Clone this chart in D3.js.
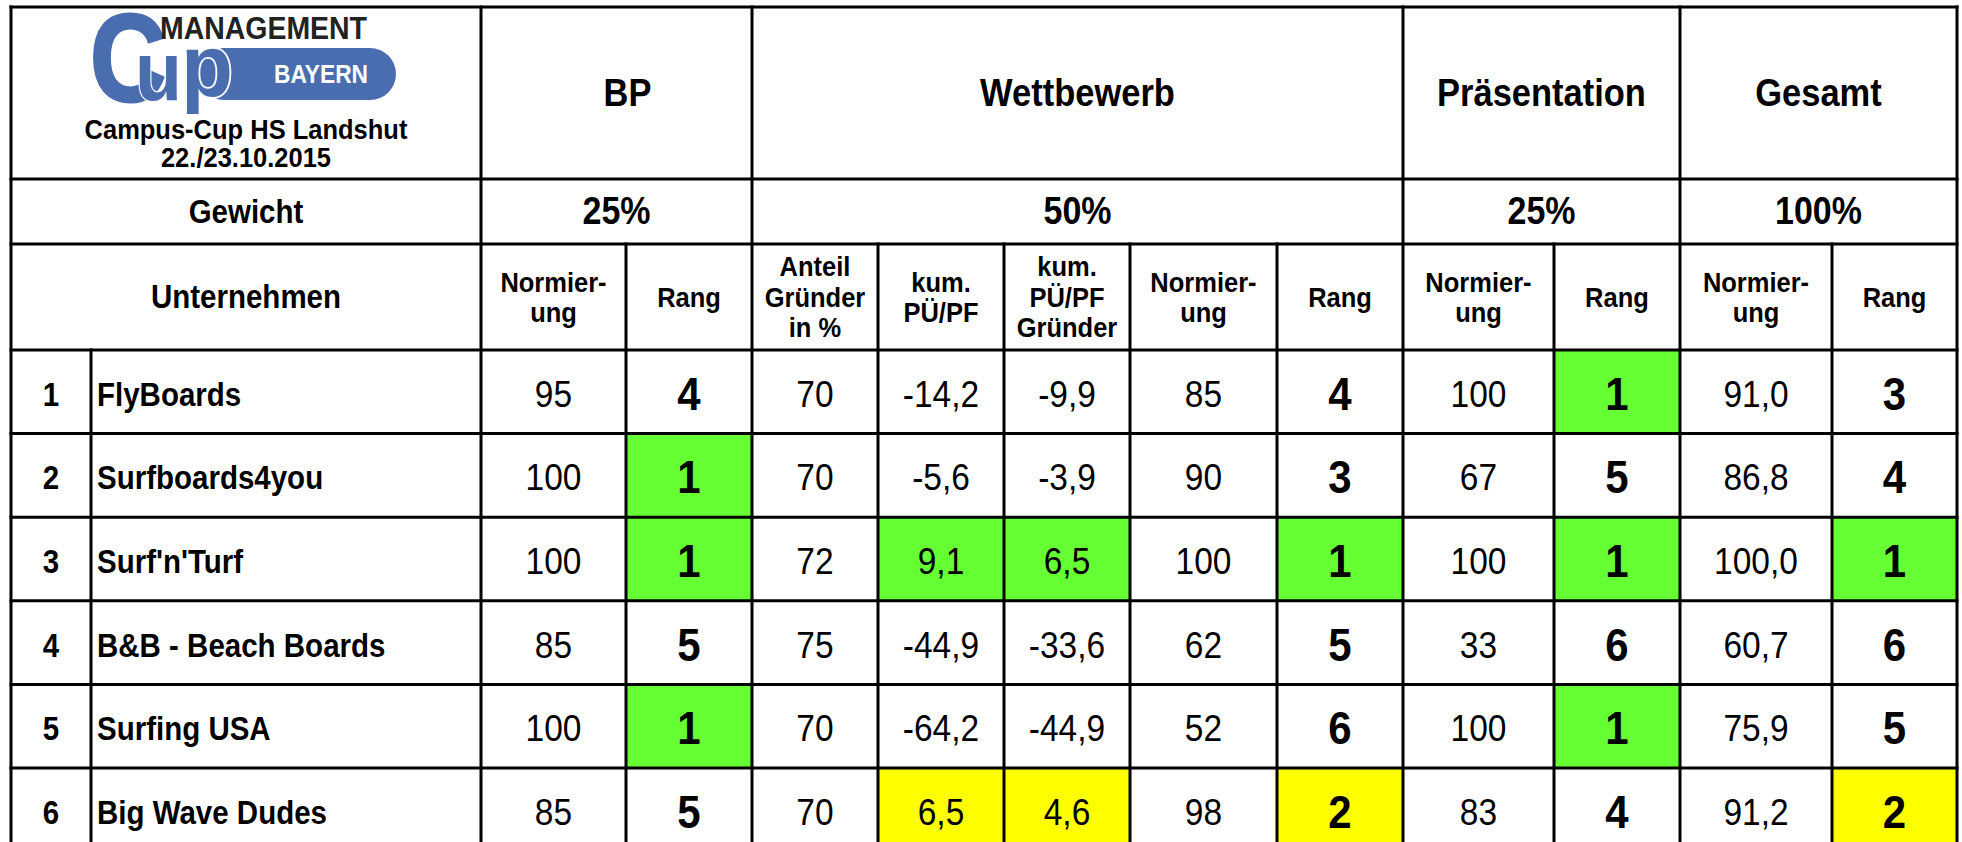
<!DOCTYPE html>
<html><head><meta charset="utf-8">
<script src="https://cdn.jsdelivr.net/npm/d3@7"></script>
<style>
body{margin:0;background:#fff;}
svg{display:block;font-family:"Liberation Sans",Arial,Helvetica,sans-serif;}
</style>
</head><body>
<script>
// ---------- data ----------
const ids = [1, 2, 3, 4, 5, 6];
const companies = ["FlyBoards", "Surfboards4you", "Surf'n'Turf", "B&B - Beach Boards", "Surfing USA", "Big Wave Dudes"];
const bpNorm = [95, 100, 100, 85, 100, 85];
const bpRang = [4, 1, 1, 5, 1, 5];
const anteilGruender = [70, 70, 72, 75, 70, 70];
const kumPUPF = [-14.2, -5.6, 9.1, -44.9, -64.2, 6.5];
const kumPUPFGruender = [-9.9, -3.9, 6.5, -33.6, -44.9, 4.6];
const wNorm = [85, 90, 100, 62, 52, 98];
const wRang = [4, 3, 1, 5, 6, 2];
const pNorm = [100, 67, 100, 33, 100, 83];
const pRang = [1, 5, 1, 6, 1, 4];
const gNorm = [91.0, 86.8, 100.0, 60.7, 75.9, 91.2];
const gRang = [3, 4, 1, 6, 5, 2];
const groupNames = ["BP", "Wettbewerb", "Präsentation", "Gesamt"];
const groupWeights = ["25%", "50%", "25%", "100%"];
const subHeaders = [["Normier-","ung"],["Rang"],["Anteil","Gründer","in %"],["kum.","PÜ/PF"],["kum.","PÜ/PF","Gründer"],["Normier-","ung"],["Rang"],["Normier-","ung"],["Rang"],["Normier-","ung"],["Rang"]];
const titleLines = ["Campus-Cup HS Landshut", "22./23.10.2015"];

// ---------- layout ----------
const W = 1962, H = 842;
const colEdges = [11, 91, 481, 626, 752, 878, 1004, 1130, 1277, 1403, 1554, 1680, 1832, 1957];
const headEdges = [7, 179, 244, 350];
const x = d3.scaleLinear().domain(d3.range(colEdges.length)).range(colEdges);
const y = d3.scaleLinear().domain([0, 6]).range([350, 851.6]);
const hy = d3.scaleLinear().domain([0, 1, 2, 3]).range(headEdges);
const groupSpans = [[2, 4], [4, 9], [9, 11], [11, 13]];

const S = 1.12; // vertical glyph stretch seen in the reference
const vy = v => v / S;

const GREEN = "#66FF33", YELLOW = "#FFFF00", BLUE = "#4A6DB0";
const loc = d3.formatLocale({decimal: ",", thousands: ".", grouping: [3], currency: ["", "€"], minus: "-"});
const f1 = loc.format(".1f"), f0 = loc.format("d");

function rankDesc(arr) { const s = arr.slice().sort((a, b) => b - a); return arr.map(v => s.indexOf(v) + 1); }
const colorByRank = r => r === 1 ? GREEN : (r === 2 ? YELLOW : null);

const columns = [
  {vals: bpNorm, fmt: f0, kind: "val"},
  {vals: bpRang, fmt: f0, kind: "rank", hl: bpRang},
  {vals: anteilGruender, fmt: f0, kind: "val"},
  {vals: kumPUPF, fmt: f1, kind: "val", hl: rankDesc(kumPUPF)},
  {vals: kumPUPFGruender, fmt: f1, kind: "val", hl: rankDesc(kumPUPFGruender)},
  {vals: wNorm, fmt: f0, kind: "val"},
  {vals: wRang, fmt: f0, kind: "rank", hl: wRang},
  {vals: pNorm, fmt: f0, kind: "val"},
  {vals: pRang, fmt: f0, kind: "rank", hl: pRang},
  {vals: gNorm, fmt: f1, kind: "val"},
  {vals: gRang, fmt: f0, kind: "rank", hl: gRang}
];

const svg = d3.select("body").append("svg").attr("width", W).attr("height", H);

// ---------- cell fills ----------
const fills = [];
columns.forEach((c, ci) => {
  if (!c.hl) return;
  c.hl.forEach((r, ri) => { const col = colorByRank(r); if (col) fills.push({ci: ci + 2, ri, col}); });
});
svg.append("g").selectAll("rect").data(fills).join("rect")
  .attr("x", d => x(d.ci)).attr("y", d => y(d.ri))
  .attr("width", d => x(d.ci + 1) - x(d.ci)).attr("height", d => y(d.ri + 1) - y(d.ri))
  .attr("fill", d => d.col);

// ---------- grid lines ----------
const grid = svg.append("g").attr("stroke", "#000").attr("stroke-width", 3).attr("stroke-linecap", "square");
const bottom = y(6);
[0, 1, 2, 3].forEach(i => grid.append("line").attr("x1", x(0)).attr("x2", x(13)).attr("y1", hy(i)).attr("y2", hy(i)));
d3.range(1, 7).forEach(i => grid.append("line").attr("x1", x(0)).attr("x2", x(13)).attr("y1", y(i)).attr("y2", y(i)));
[0, 2, 4, 9, 11, 13].forEach(i => grid.append("line").attr("x1", x(i)).attr("x2", x(i)).attr("y1", hy(0)).attr("y2", bottom));
[3, 5, 6, 7, 8, 10, 12].forEach(i => grid.append("line").attr("x1", x(i)).attr("x2", x(i)).attr("y1", hy(2)).attr("y2", bottom));
grid.append("line").attr("x1", x(1)).attr("x2", x(1)).attr("y1", hy(3)).attr("y2", bottom);

// ---------- logo ----------
const logo = svg.append("g");
logo.append("rect").attr("x", 198).attr("y", 48).attr("width", 198).attr("height", 52).attr("rx", 26).attr("fill", BLUE);
logo.append("text").attr("x", 90).attr("y", 101).attr("font-size", 124).attr("font-weight", "bold")
  .attr("fill", BLUE).attr("stroke", BLUE).attr("stroke-width", 3)
  .attr("textLength", 76).attr("lengthAdjust", "spacingAndGlyphs").text("C");
logo.append("g").attr("transform", "scale(1,1.2)")
  .append("text").attr("x", 135).attr("y", 100 / 1.2).attr("font-size", 70).attr("font-weight", "bold")
  .attr("fill", BLUE).attr("stroke", "#fff").attr("stroke-width", 2).attr("paint-order", "stroke")
  .attr("textLength", 47).attr("lengthAdjust", "spacingAndGlyphs").text("u");
logo.append("g").attr("transform", "scale(1,1.2)")
  .append("text").attr("x", 181).attr("y", 96 / 1.2).attr("font-size", 72).attr("font-weight", "bold")
  .attr("fill", BLUE).attr("stroke", "#fff").attr("stroke-width", 3).attr("paint-order", "stroke")
  .attr("textLength", 52).attr("lengthAdjust", "spacingAndGlyphs").text("p");
logo.append("text").attr("x", 160).attr("y", 39).attr("font-size", 31).attr("font-weight", "bold")
  .attr("fill", "#222").attr("textLength", 207).attr("lengthAdjust", "spacingAndGlyphs").text("MANAGEMENT");
logo.append("text").attr("x", 274).attr("y", 83).attr("font-size", 26).attr("font-weight", "bold")
  .attr("fill", "#fff").attr("textLength", 94).attr("lengthAdjust", "spacingAndGlyphs").text("BAYERN");

// ---------- text layer (vertically stretched like the reference) ----------
const T = svg.append("g").attr("transform", `scale(1,${S})`).attr("fill", "#000");

T.selectAll("text.title").data(titleLines).join("text").attr("class", "title")
  .attr("x", (x(0) + x(2)) / 2).attr("y", (d, i) => vy(139 + i * 28))
  .attr("text-anchor", "middle").attr("font-size", 25.5).attr("font-weight", "bold").text(d => d);

const hdr = T.append("g").attr("font-weight", "bold").attr("text-anchor", "middle");
hdr.selectAll("text.grp").data(groupNames).join("text").attr("class", "grp")
  .attr("x", (d, i) => (x(groupSpans[i][0]) + x(groupSpans[i][1])) / 2 + (i === 0 ? 11 : 0))
  .attr("y", vy((hy(0) + hy(1)) / 2 + 13)).attr("font-size", 34.5).text(d => d);
hdr.selectAll("text.wt").data(groupWeights).join("text").attr("class", "wt")
  .attr("x", (d, i) => (x(groupSpans[i][0]) + x(groupSpans[i][1])) / 2)
  .attr("y", vy((hy(1) + hy(2)) / 2 + 13)).attr("font-size", 34).text(d => d);
hdr.append("text").attr("x", (x(0) + x(2)) / 2).attr("y", vy((hy(1) + hy(2)) / 2 + 12)).attr("font-size", 29.5).text("Gewicht");
hdr.append("text").attr("x", (x(0) + x(2)) / 2).attr("y", vy((hy(2) + hy(3)) / 2 + 11)).attr("font-size", 29.5).text("Unternehmen");
const sub = hdr.selectAll("g.sub").data(subHeaders).join("g").attr("class", "sub");
sub.each(function(lines, i) {
  const cx = (x(i + 2) + x(i + 3)) / 2, cy = (hy(2) + hy(3)) / 2;
  const lh = 30.5;
  d3.select(this).selectAll("text").data(lines).join("text")
    .attr("x", cx).attr("y", (d, k) => vy(cy + 10 + (k - (lines.length - 1) / 2) * lh))
    .attr("font-size", 25.5).text(d => d);
});

const rowC = i => (y(i) + y(i + 1)) / 2 + 3;
T.selectAll("text.id").data(ids).join("text").attr("class", "id")
  .attr("x", (x(0) + x(1)) / 2).attr("y", (d, i) => vy(rowC(i) + 11))
  .attr("text-anchor", "middle").attr("font-size", 29.5).attr("font-weight", "bold").text(d => d);
T.selectAll("text.name").data(companies).join("text").attr("class", "name")
  .attr("x", x(1) + 6).attr("y", (d, i) => vy(rowC(i) + 11))
  .attr("font-size", 29.5).attr("font-weight", "bold").text(d => d);
columns.forEach((c, ci) => {
  T.append("g").selectAll("text").data(c.vals).join("text")
    .attr("x", (x(ci + 2) + x(ci + 3)) / 2)
    .attr("y", (d, i) => vy(rowC(i) + (c.kind === "rank" ? 15 : 12)))
    .attr("text-anchor", "middle")
    .attr("font-size", c.kind === "rank" ? 42 : 33.5)
    .attr("font-weight", c.kind === "rank" ? "bold" : "normal")
    .text(d => c.fmt(d));
});
</script>
</body></html>
